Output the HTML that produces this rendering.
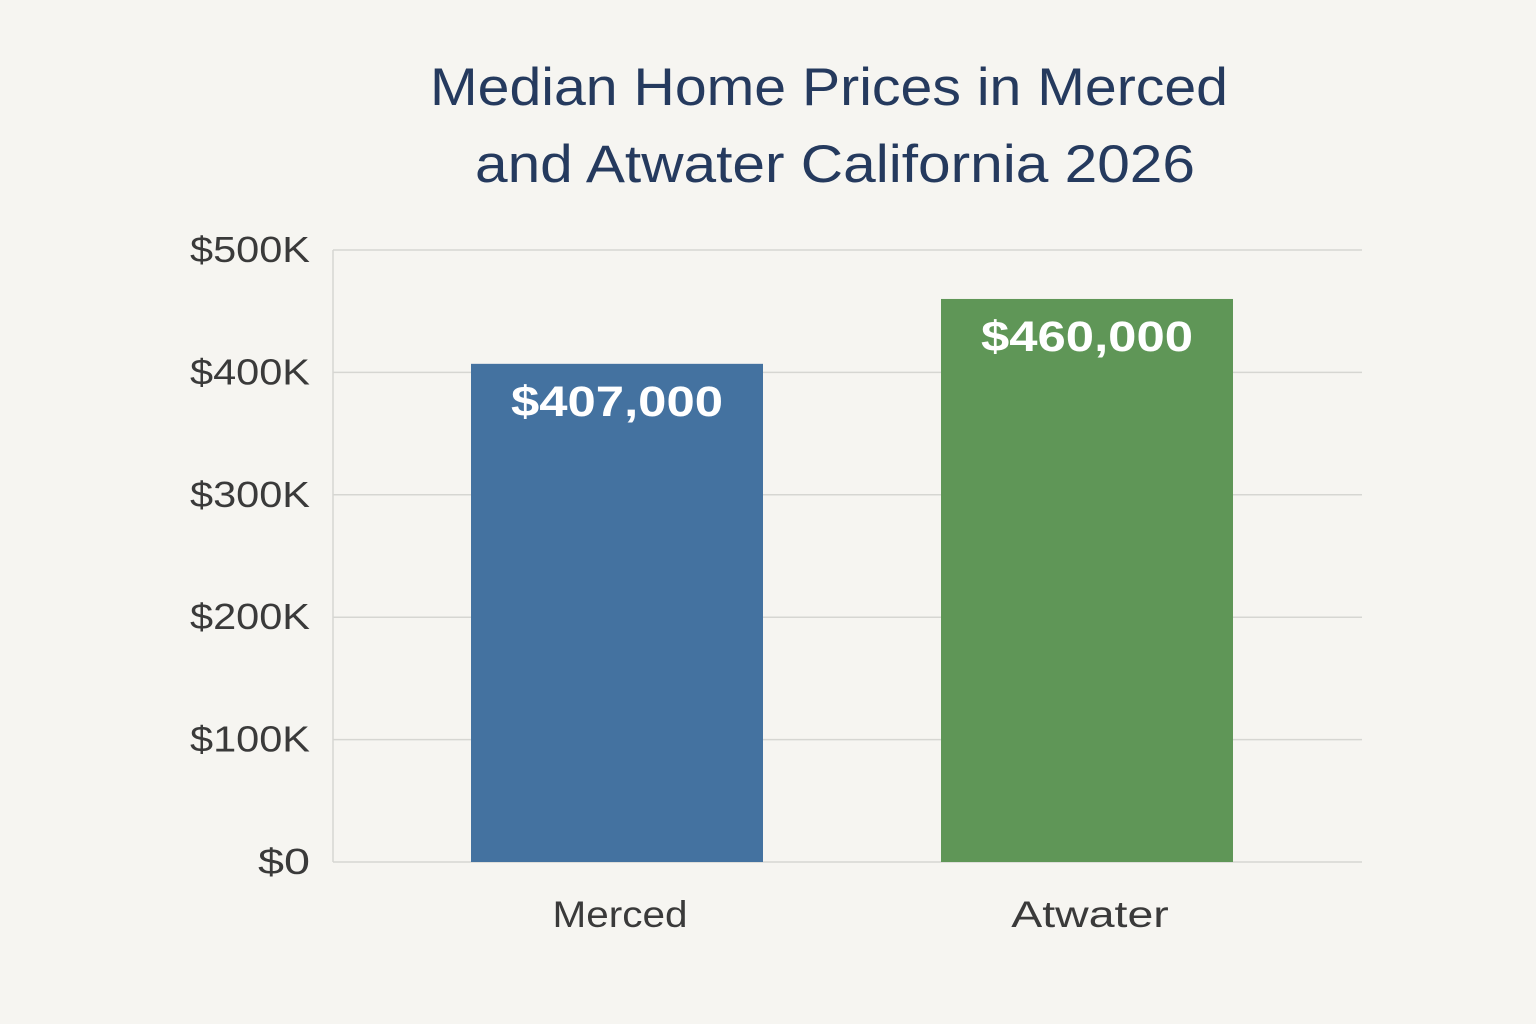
<!DOCTYPE html>
<html><head><meta charset="utf-8"><style>
html,body{margin:0;padding:0;background:#f6f5f1;}
svg{display:block;}
</style></head><body>
<svg id="chart" width="1536" height="1024" viewBox="0 0 1536 1024" xmlns="http://www.w3.org/2000/svg">
<rect width="1536" height="1024" fill="#f6f5f1"/>
<text x="829" y="105" text-anchor="middle" font-family="Liberation Sans, sans-serif" font-size="53" fill="#253a5e" textLength="798" lengthAdjust="spacingAndGlyphs">Median Home Prices in Merced</text>
<text x="835" y="182" text-anchor="middle" font-family="Liberation Sans, sans-serif" font-size="53" fill="#253a5e" textLength="720" lengthAdjust="spacingAndGlyphs">and Atwater California 2026</text>
<g id="grid"></g>
<g id="bars"></g>
</svg>
<script>
const categories = ["Merced", "Atwater"];
const values = [407000, 460000];
const valueLabels = ["$407,000", "$460,000"];
const tickValues = [0, 100000, 200000, 300000, 400000, 500000];
const tickLabels = ["$0", "$100K", "$200K", "$300K", "$400K", "$500K"];

const NS = "http://www.w3.org/2000/svg";
const plotLeft = 333, plotRight = 1362, yBottom = 862, yTop = 250, yMax = 500000;
const barWidth = 292, firstCenter = 617, centerStep = 470;
function yScale(v){ return yBottom - (v / yMax) * (yBottom - yTop); }
function xCenter(i){ return firstCenter + i * centerStep; }
function mk(tag, attrs, parent){ const e = document.createElementNS(NS, tag); for (const k in attrs) e.setAttribute(k, attrs[k]); parent.appendChild(e); return e; }

const grid = document.getElementById("grid");
tickValues.forEach((t, i) => {
  const y = yScale(t);
  const line = mk("line", {x1: plotLeft, x2: plotRight, y1: y, y2: y, stroke: "#d6d6d2", "stroke-width": 1.5}, grid);
  
  
  const lbl = mk("text", {x: 310, y: y + 12, "text-anchor": "end", "font-family": "Liberation Sans, sans-serif", "font-size": 36, fill: "#3a3a3a", textLength: tickLabels[i].length > 2 ? 120 : 52, lengthAdjust: "spacingAndGlyphs"}, grid);
  lbl.textContent = tickLabels[i];
  
  
});
const axis = mk("line", {x1: plotLeft, x2: plotLeft, y1: yTop, y2: yBottom, stroke: "#d6d6d2", "stroke-width": 1.5}, grid);



const colors = ["#4472a0", "#5f9657"];
const bars = document.getElementById("bars");
categories.forEach((c, i) => {
  const cx = xCenter(i), y = yScale(values[i]);
  const r = mk("rect", {x: cx - barWidth / 2, y: y, width: barWidth, height: yBottom - y, fill: colors[i]}, bars);
  
  
  const v = mk("text", {x: cx, y: y + 52, "text-anchor": "middle", "font-family": "Liberation Sans, sans-serif", "font-size": 43, "font-weight": "bold", fill: "#ffffff", textLength: 212, lengthAdjust: "spacingAndGlyphs"}, bars);
  v.textContent = valueLabels[i];
  
  
  const cl = mk("text", {x: cx + 3, y: 927, "text-anchor": "middle", "font-family": "Liberation Sans, sans-serif", "font-size": 37, fill: "#3a3a3a", textLength: c.length * 22.5, lengthAdjust: "spacingAndGlyphs"}, bars);
  cl.textContent = c;
  
  
});
</script>
</body></html>
